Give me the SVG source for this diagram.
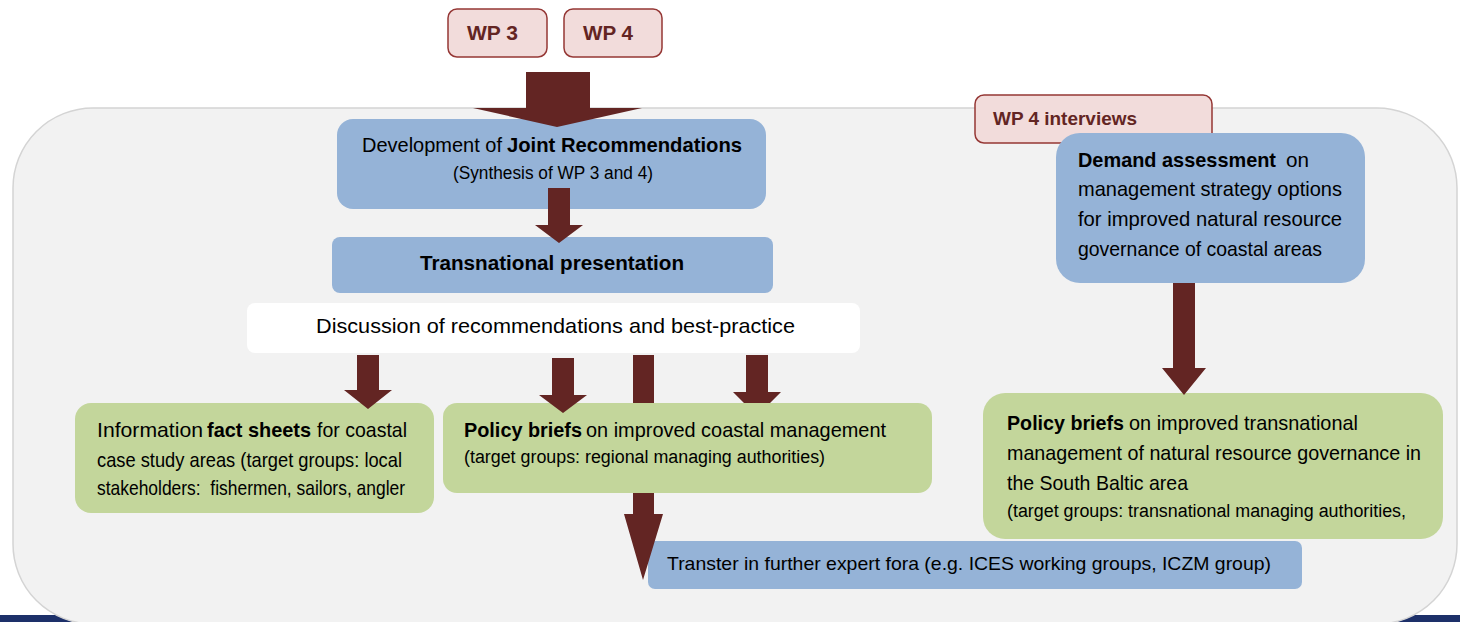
<svg xmlns="http://www.w3.org/2000/svg" width="1460" height="622" viewBox="0 0 1460 622">
<style>
.t{font-family:"Liberation Sans",Arial,sans-serif;fill:#000}
.b{font-weight:bold}
.wp{font-family:"Liberation Sans",Arial,sans-serif;font-weight:bold;fill:#632523}
.pink{fill:#f2dcdb;stroke:#953735;stroke-width:1.5}
.blue{fill:#95b3d7}
.green{fill:#c3d69b}
.arr{fill:#632523}
</style>
<rect x="0" y="0" width="1460" height="622" fill="#ffffff"/>
<rect x="0" y="615" width="1460" height="7" fill="#1d3069"/>
<rect id="container" x="13" y="108" width="1444" height="516" rx="80" ry="80" fill="#f2f2f2" stroke="#d4d4d4" stroke-width="1.5"/>

<g id="wp3"><rect class="pink" x="448" y="9" width="99" height="48" rx="9"/><text class="wp" x="467" y="40" font-size="20" textLength="51" lengthAdjust="spacingAndGlyphs">WP 3</text></g>
<g id="wp4"><rect class="pink" x="564" y="9" width="98" height="48" rx="9"/><text class="wp" x="583" y="40" font-size="20" textLength="50" lengthAdjust="spacingAndGlyphs">WP 4</text></g>

<g id="dev"><rect class="blue" x="337" y="119" width="429" height="90" rx="16"/>
<text class="t" x="362" y="152" font-size="21" textLength="140" lengthAdjust="spacingAndGlyphs">Development of</text>
<text class="t b" x="507" y="152" font-size="21" textLength="235" lengthAdjust="spacingAndGlyphs">Joint Recommendations</text>
<text class="t" x="453" y="179" font-size="18" textLength="200" lengthAdjust="spacingAndGlyphs">(Synthesis of WP 3 and 4)</text></g>

<g id="trans"><rect class="blue" x="332" y="237" width="441" height="56" rx="8"/>
<text class="t b" x="420" y="270" font-size="20" textLength="264" lengthAdjust="spacingAndGlyphs">Transnational presentation</text></g>

<g id="discussion"><rect fill="#ffffff" x="247" y="303" width="613" height="50" rx="8"/>
<text class="t" x="316" y="333" font-size="21" textLength="479" lengthAdjust="spacingAndGlyphs">Discussion of recommendations and best-practice</text></g>

<g id="factsheets"><rect class="green" x="75" y="403" width="359" height="110" rx="16"/>
<text class="t" x="97" y="437" font-size="21" textLength="106" lengthAdjust="spacingAndGlyphs">Information</text>
<text class="t b" x="207" y="437" font-size="21" textLength="104" lengthAdjust="spacingAndGlyphs">fact sheets</text>
<text class="t" x="317" y="437" font-size="21" textLength="90" lengthAdjust="spacingAndGlyphs">for coastal</text>
<text class="t" x="97" y="467" font-size="21" textLength="305" lengthAdjust="spacingAndGlyphs">case study areas (target groups: local</text>
<text class="t" x="97" y="495" font-size="21" textLength="308" lengthAdjust="spacingAndGlyphs" xml:space="preserve">stakeholders:  fishermen, sailors, angler</text></g>

<g id="policy"><rect class="green" x="443" y="403" width="489" height="90" rx="14"/>
<text class="t b" x="464" y="437" font-size="20" textLength="118" lengthAdjust="spacingAndGlyphs">Policy briefs</text>
<text class="t" x="586" y="437" font-size="21" textLength="300" lengthAdjust="spacingAndGlyphs">on improved coastal management</text>
<text class="t" x="464" y="463" font-size="18" textLength="361" lengthAdjust="spacingAndGlyphs">(target groups: regional managing authorities)</text></g>

<g id="wp4int"><rect class="pink" x="975" y="95" width="237" height="48" rx="9"/>
<text class="wp" x="993" y="125" font-size="18" textLength="144" lengthAdjust="spacingAndGlyphs">WP 4 interviews</text></g>

<g id="demand"><rect class="blue" x="1056" y="133" width="309" height="150" rx="24"/>
<text class="t b" x="1078" y="167" font-size="21" textLength="198" lengthAdjust="spacingAndGlyphs">Demand assessment</text>
<text class="t" x="1286" y="167" font-size="21" textLength="23" lengthAdjust="spacingAndGlyphs">on</text>
<text class="t" x="1078" y="196" font-size="21" textLength="264" lengthAdjust="spacingAndGlyphs">management strategy options</text>
<text class="t" x="1078" y="226" font-size="21" textLength="264" lengthAdjust="spacingAndGlyphs">for improved natural resource</text>
<text class="t" x="1078" y="256" font-size="21" textLength="244" lengthAdjust="spacingAndGlyphs">governance of coastal areas</text></g>

<g id="policy2"><rect class="green" x="983" y="393" width="460" height="146" rx="22"/>
<text class="t b" x="1007" y="430" font-size="20" textLength="117" lengthAdjust="spacingAndGlyphs">Policy briefs</text>
<text class="t" x="1129" y="430" font-size="21" textLength="229" lengthAdjust="spacingAndGlyphs">on improved transnational</text>
<text class="t" x="1007" y="460" font-size="21" textLength="414" lengthAdjust="spacingAndGlyphs">management of natural resource governance in</text>
<text class="t" x="1007" y="490" font-size="21" textLength="181" lengthAdjust="spacingAndGlyphs">the South Baltic area</text>
<text class="t" x="1007" y="517" font-size="18" textLength="399" lengthAdjust="spacingAndGlyphs">(target groups: transnational managing authorities,</text></g>

<g id="transfer"><rect class="blue" x="648" y="541" width="654" height="48" rx="7"/>
<text class="t" x="667" y="570" font-size="19" textLength="604" lengthAdjust="spacingAndGlyphs">Transter in further expert fora (e.g. ICES working groups, ICZM group)</text></g>

<g id="connectors">
<polygon class="arr" points="526,72 590,72 590,108 642,108 557,127 473,108 526,108"/>
<polygon class="arr" points="548,188 570,188 570,225 583,225 559,243 535,225 548,225"/>
<polygon class="arr" points="357,355 379,355 379,390 392,390 368,409 344,390 357,390"/>
<polygon class="arr" points="552,358 574,358 574,395 587,395 563,413 539,395 552,395"/>
<rect class="arr" x="633" y="355" width="21" height="48"/>
<polygon class="arr" points="633,493 654,493 654,514 663,514 643,580 624,514 633,514"/>
<polygon class="arr" points="746,355 768,355 768,392 781,392 770,403 744,403 733,392 746,392"/>
<polygon class="arr" points="1173,283 1195,283 1195,368 1206,368 1184,395 1162,368 1173,368"/>
</g>
</svg>
